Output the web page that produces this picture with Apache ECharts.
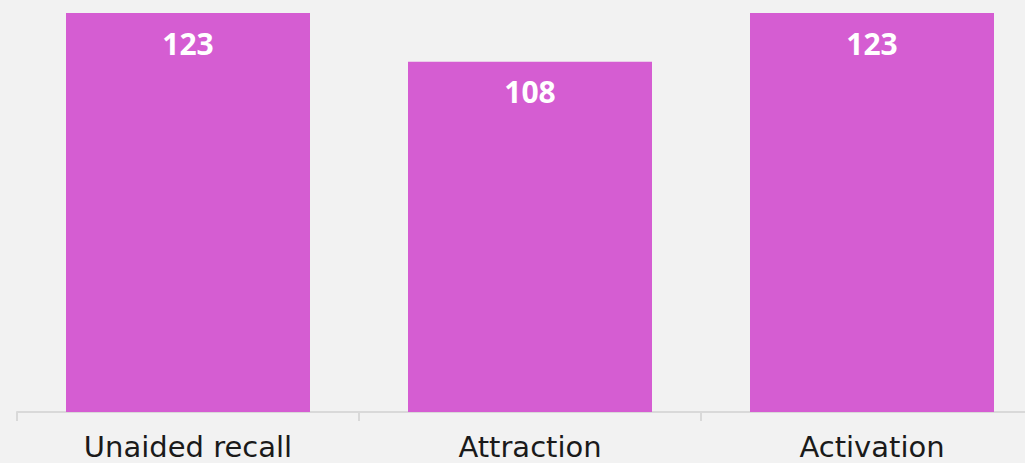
<!DOCTYPE html>
<html>
<head>
<meta charset="utf-8">
<script src="https://cdn.jsdelivr.net/npm/echarts@6/dist/echarts.min.js"></script>
<style>
  html, body { margin: 0; padding: 0; background: #f2f2f2; }
  #chart { width: 1025px; height: 463px; }
</style>
</head>
<body>
<div id="chart"></div>
<script>
// data
const categories = ['Unaided recall', 'Attraction', 'Activation'];
const values = [123, 108, 123];

const BAR = '#d55dd2';
const AXIS_FONT = "'DejaVu Sans', 'Open Sans', sans-serif";
const VALUE_FONT = "'Open Sans', 'DejaVu Sans', sans-serif";

const chart = echarts.init(document.getElementById('chart'), null, { renderer: 'svg' });
chart.setOption({
  backgroundColor: '#f2f2f2',
  animation: false,
  // grid runs past the right edge of the canvas, like the source image
  grid: { left: 17, width: 1026, top: 13, bottom: 51, containLabel: false, outerBoundsMode: 'none' },
  xAxis: {
    type: 'category',
    data: categories,
    axisLine: { lineStyle: { color: '#d9d9d9', width: 2 } },
    axisTick: { show: true, length: 9, lineStyle: { color: '#d9d9d9', width: 2 } },
    axisLabel: { fontFamily: AXIS_FONT, fontSize: 29, color: '#1a1a1a', margin: 20, interval: 0 },
  },
  yAxis: {
    type: 'value',
    min: 0,
    max: 123,
    show: false,
  },
  series: [{
    type: 'bar',
    data: values,
    barWidth: 244,
    itemStyle: { color: BAR },
    label: {
      show: true,
      position: 'insideTop',
      distance: 15,
      fontFamily: VALUE_FONT,
      fontSize: 30,
      fontWeight: 'bold',
      color: '#ffffff',
    },
  }],
});
</script>
</body>
</html>
